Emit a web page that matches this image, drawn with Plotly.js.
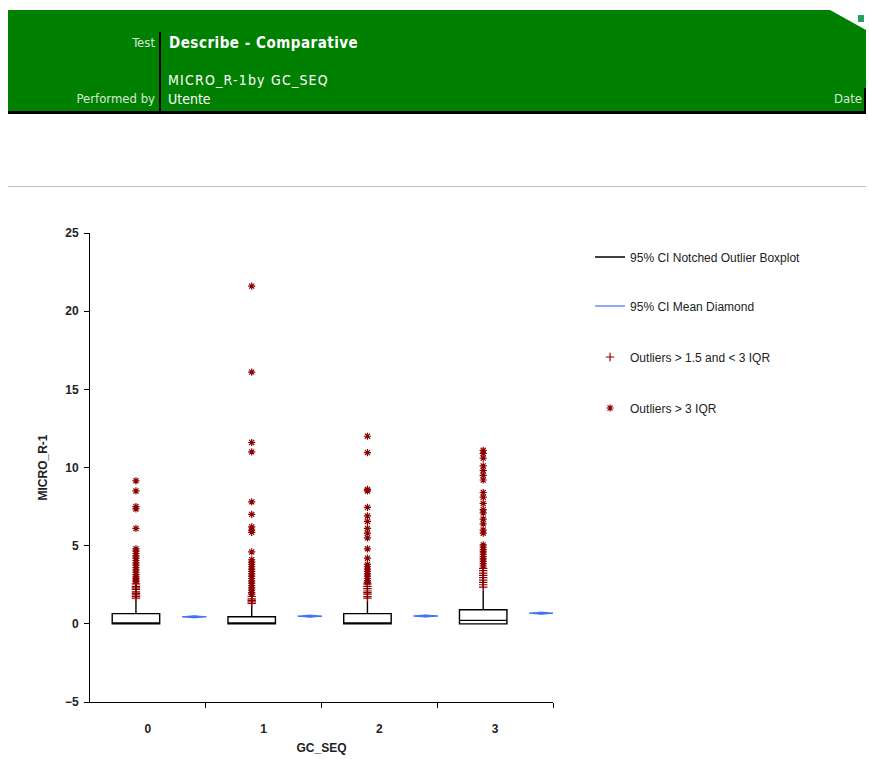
<!DOCTYPE html>
<html>
<head>
<meta charset="utf-8">
<script src="https://cdn.plot.ly/plotly-3.0.1.min.js"></script>
<style>
  html, body { margin: 0; padding: 0; background: #ffffff; }
  #page { position: relative; width: 869px; height: 759px; overflow: hidden; }
  #chart { position: absolute; left: 0; top: 0; width: 869px; height: 759px; }
  #hdr { position: absolute; left: 0; top: 0; width: 869px; height: 200px; z-index: 10; pointer-events: none; }
  .abs { position: absolute; white-space: nowrap; }
  .hf { font-family: "Liberation Sans Narrow", "DejaVu Sans Condensed", "Liberation Sans", sans-serif; }
</style>
</head>
<body>
<div id="page">
  <div id="chart"></div>
  <div id="hdr">
    <div class="abs" style="left:8px;top:10px;width:858px;height:102px;background:#008000;clip-path:polygon(0 0, 822px 0, 858px 20px, 858px 100%, 0 100%);"></div>
    <div class="abs" style="left:858px;top:15px;width:6px;height:7px;background:#2e9e5e;"></div>
    <div class="abs" style="left:8px;top:111px;width:858px;height:3px;background:#000;"></div>
    <div class="abs" style="left:159px;top:32px;width:2px;height:80px;background:#000;"></div>
    <div class="abs" style="left:864px;top:88px;width:2px;height:24px;background:#000;"></div>
    <div class="abs hf" style="right:714px;top:35px;font-size:13px;color:#d8e8d8;">Test</div>
    <div class="abs hf" style="left:169px;top:34px;font-size:15px;font-weight:bold;color:#ffffff;letter-spacing:0.5px;">Describe - Comparative</div>
    <div class="abs hf" style="left:168px;top:72px;font-size:14px;color:#ffffff;letter-spacing:1.2px;">MICRO_R-1by GC_SEQ</div>
    <div class="abs hf" style="right:714px;top:91px;font-size:13px;color:#d8e8d8;">Performed by</div>
    <div class="abs hf" style="left:168px;top:91px;font-size:14px;color:#ffffff;">Utente</div>
    <div class="abs hf" style="right:7px;top:91px;font-size:13px;color:#d8e8d8;">Date</div>
    <div class="abs" style="left:8px;top:186px;width:858px;height:1px;background:#c0c0c0;"></div>
  </div>
</div>
<script>
// ---------------- data ----------------
const groups = [0, 1, 2, 3];
const tickLabels = ['0', '1', '2', '3'];

const q1Vals = [0, 0, 0, 0];
const medianVals = [0.03, 0.03, 0.03, 0.22];
const q3Vals = [0.65, 0.45, 0.65, 0.9];
const lowerFenceVals = [0, 0, 0, 0];
const upperFenceVals = [1.46, 1.15, 1.46, 2.14];

const meanVals = [0.45, 0.49, 0.5, 0.68];
const meanCIVals = [0.07, 0.07, 0.07, 0.07];

const extremeOutliers0 = [9.15, 8.5, 7.5, 7.35, 6.1, 4.8, 4.65, 4.5, 4.35, 4.2, 4.05, 3.9, 3.75, 3.6, 3.45, 3.3, 3.15, 3.0, 2.9, 2.8, 2.7];
const mildOutliers0 = [2.55, 2.4, 2.3, 2.2, 2.05, 1.95, 1.85, 1.75, 1.65];

const extremeOutliers1 = [21.6, 16.1, 11.6, 11.0, 7.8, 7.0, 6.2, 6.0, 5.85, 4.6, 4.1, 3.95, 3.8, 3.65, 3.5, 3.35, 3.2, 3.05, 2.9, 2.75, 2.6, 2.45, 2.3, 2.15, 2.0, 1.9];
const mildOutliers1 = [1.75, 1.6, 1.5, 1.4, 1.3];

const extremeOutliers2 = [12.0, 10.95, 8.6, 8.5, 7.45, 6.9, 6.55, 6.1, 5.8, 5.5, 4.8, 4.2, 3.8, 3.65, 3.5, 3.35, 3.2, 3.05, 2.9, 2.75, 2.65];
const mildOutliers2 = [2.55, 2.4, 2.25, 2.1, 2.0, 1.9, 1.75, 1.65];

const extremeOutliers3 = [11.1, 10.9, 10.6, 10.1, 9.8, 9.5, 9.2, 8.4, 8.1, 7.7, 7.3, 7.1, 6.7, 6.4, 6.0, 5.8, 5.05, 4.9, 4.75, 4.6, 4.45, 4.3, 4.15, 4.0, 3.85, 3.7];
const mildOutliers3 = [3.55, 3.4, 3.25, 3.1, 2.95, 2.8, 2.65, 2.5, 2.35];

const legendNames = ['95% CI Notched Outlier Boxplot', '95% CI Mean Diamond', 'Outliers > 1.5 and < 3 IQR', 'Outliers > 3 IQR'];

// ---------------- style / positions ----------------
const BOX_OFFSET = -0.103;
const DIAMOND_OFFSET = 0.40;
const DIAMOND_HALF = 0.105;
const BOX_WIDTH = 0.41;
const OUT_COLOR = '#8B0000';
const DIAMOND_COLOR = '#3F6FF2';
const FONT = 'Liberation Sans, Arial, sans-serif';

const extremeAll = [extremeOutliers0, extremeOutliers1, extremeOutliers2, extremeOutliers3];
const mildAll = [mildOutliers0, mildOutliers1, mildOutliers2, mildOutliers3];

function flatten(list) {
  const xs = [], ys = [];
  list.forEach((vals, i) => vals.forEach(v => { xs.push(groups[i] + BOX_OFFSET); ys.push(v); }));
  return {x: xs, y: ys};
}

const traces = [];

// boxes
traces.push({
  type: 'box',
  x: groups.map(g => g + BOX_OFFSET),
  q1: q1Vals, median: medianVals, q3: q3Vals,
  lowerfence: lowerFenceVals, upperfence: upperFenceVals,
  width: BOX_WIDTH,
  whiskerwidth: 0,
  boxpoints: false,
  fillcolor: '#ffffff',
  line: {color: '#000000', width: 1.4},
  showlegend: false,
  hoverinfo: 'skip'
});

// mean diamonds
groups.forEach((g, i) => {
  const c = g + DIAMOND_OFFSET;
  traces.push({
    type: 'scatter', mode: 'lines', fill: 'toself',
    x: [c - DIAMOND_HALF, c, c + DIAMOND_HALF, c, c - DIAMOND_HALF],
    y: [meanVals[i], meanVals[i] + meanCIVals[i], meanVals[i], meanVals[i] - meanCIVals[i], meanVals[i]],
    line: {color: DIAMOND_COLOR, width: 1},
    fillcolor: DIAMOND_COLOR,
    showlegend: false, hoverinfo: 'skip'
  });
});

// outliers
const mild = flatten(mildAll);
const extreme = flatten(extremeAll);
traces.push({
  type: 'scatter', mode: 'markers', x: mild.x, y: mild.y,
  name: legendNames[2], legend: 'legend3',
  marker: {symbol: 'cross-thin-open', size: 6, color: OUT_COLOR, line: {color: OUT_COLOR, width: 1.2}}
});
traces.push({
  type: 'scatter', mode: 'markers', x: extreme.x, y: extreme.y,
  name: legendNames[3], legend: 'legend4',
  marker: {symbol: 'asterisk-open', size: 6, color: OUT_COLOR, line: {color: OUT_COLOR, width: 1.2}}
});

// legend-only line entries (also anchor the boundary-tick axis)
traces.push({type: 'scatter', mode: 'lines', x: [null], y: [null], xaxis: 'x2',
  name: legendNames[0], legend: 'legend', line: {color: '#000000', width: 1.3}});
traces.push({type: 'scatter', mode: 'lines', x: [null], y: [null], xaxis: 'x2',
  name: legendNames[1], legend: 'legend2', line: {color: '#6A8FF0', width: 1.3}});

const legendBase = {xanchor: 'left', yanchor: 'middle', x: 1.08, bgcolor: 'rgba(0,0,0,0)',
  borderwidth: 0, font: {family: FONT, size: 12, color: '#222222'}};

const layout = {
  width: 869, height: 759,
  margin: {l: 90, r: 316, t: 233, b: 57, pad: 0},
  paper_bgcolor: 'rgba(0,0,0,0)', plot_bgcolor: 'rgba(0,0,0,0)',
  showlegend: true,
  xaxis: {
    range: [-0.5, 3.5], tickvals: groups, ticktext: tickLabels,
    ticks: '', showline: true, linecolor: '#000000', linewidth: 1,
    showgrid: false, zeroline: false, ticklabelstandoff: 16,
    tickfont: {family: FONT, size: 12, weight: 'bold', color: '#222222'},
    title: {text: 'GC_SEQ', standoff: 8, font: {family: FONT, size: 12, weight: 'bold', color: '#222222'}}
  },
  xaxis2: {
    overlaying: 'x', anchor: 'y', side: 'bottom',
    range: [-0.5, 3.5], tickvals: [0.5, 1.5, 2.5, 3.5],
    ticks: 'outside', ticklen: 5, tickcolor: '#000000', tickwidth: 1,
    showticklabels: false, showline: false, showgrid: false, zeroline: false
  },
  yaxis: {
    range: [-5, 25], tickvals: [-5, 0, 5, 10, 15, 20, 25],
    ticks: 'outside', ticklen: 5, tickcolor: '#000000', tickwidth: 1,
    showline: true, linecolor: '#000000', linewidth: 1,
    showgrid: false, zeroline: false, ticklabelstandoff: 3,
    tickfont: {family: FONT, size: 12, weight: 'bold', color: '#222222'},
    title: {text: 'MICRO_R-1', standoff: 14, font: {family: FONT, size: 12, weight: 'bold', color: '#222222'}}
  },
  legend: Object.assign({}, legendBase, {y: (702 - 257) / 469}),
  legend2: Object.assign({}, legendBase, {y: (702 - 306) / 469}),
  legend3: Object.assign({}, legendBase, {y: (702 - 357) / 469}),
  legend4: Object.assign({}, legendBase, {y: (702 - 408) / 469})
};

Plotly.newPlot('chart', traces, layout, {staticPlot: true, displayModeBar: false});
</script>
</body>
</html>
